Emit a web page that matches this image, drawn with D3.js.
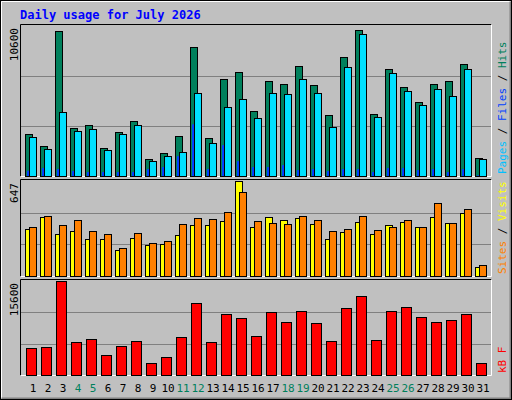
<!DOCTYPE html>
<html><head><meta charset="utf-8">
<script src="https://cdn.jsdelivr.net/npm/d3@7"></script>
<style>body{margin:0;background:#fff}text{font-family:"DejaVu Sans Mono",monospace}</style>
</head><body><svg id="c" width="512" height="400"></svg>
<script>
var days = d3.range(1, 32);
var weekend = [4, 5, 11, 12, 18, 19, 25, 26];
var hits = [2950,2100,10250,3370,3580,1970,3090,3860,1190,1610,2810,9130,2670,6880,7370,4560,6740,6530,7790,6460,4280,8420,10320,4350,7580,6320,5200,6530,6740,7930,1260];
var files = [2740,1900,4490,3160,3300,1830,2950,3580,1050,1400,1690,5900,2320,4910,5410,4070,5900,5760,6880,5830,3440,7720,10040,4140,7300,6040,4990,6180,5620,7580,1190];
var pages = [370,560,490,350,280,280,280,280,490,630,1400,3650,490,2180,1050,630,630,770,420,490,350,490,490,280,560,560,420,490,280,490,50];
var visits = [323,401,288,309,253,253,176,260,211,218,281,345,345,373,647,331,401,380,394,352,253,302,366,288,345,366,331,401,359,429,63];
var sites = [331,408,345,380,309,288,190,295,225,239,352,394,387,436,570,373,359,352,408,380,309,323,408,316,331,380,331,499,359,457,77];
var kbytes = [4500,4670,15600,5520,6040,3300,4840,5690,1940,2960,6380,12010,5520,10130,9450,6550,10480,8770,10650,8600,5690,11160,13040,5860,10650,11330,9620,8770,9110,10130,1940];
var maxHits = 10600, maxVisits = 647, maxKB = 15600;

var svg = d3.select('#c');
// outer frame with bevel
svg.append('rect').attr('x', 0).attr('y', 0).attr('width', 512).attr('height', 400).attr('fill', '#c0c0c0');
svg.append('path').attr('d', 'M1.5,398.5V1.5H510.5').attr('stroke', '#fff').attr('fill', 'none');
svg.append('path').attr('d', 'M1.5,398.5H510.5V1.5').attr('stroke', '#808080').attr('fill', 'none').attr('stroke-width', 2);
svg.append('rect').attr('x', 0.5).attr('y', 0.5).attr('width', 511).attr('height', 399).attr('fill', 'none').attr('stroke', '#000');

svg.append('text').attr('x', 20).attr('y', 19).attr('fill', '#0000ff').attr('font-size', 12).attr('font-weight', 'bold').text('Daily usage for July 2026');

var x = d3.scaleLinear().domain([1, 31]).range([25, 475]);

function panel(y0, y1, max, label, right) {
	svg.append('rect').attr('x', 20.5).attr('y', y0 + 0.5).attr('width', 470).attr('height', y1 - y0).attr('fill', '#c0c0c0');
	svg.append('path').attr('d', 'M20.5,' + (y1 + 0.5) + 'V' + (y0 + 0.5) + 'H491.5').attr('stroke', '#000').attr('fill', 'none');
	svg.append('path').attr('d', 'M20.5,' + (y1 + 0.5) + 'H491.5V' + (y0 + 0.5)).attr('stroke', '#fff').attr('fill', 'none');
	var y = d3.scaleLinear().domain([0, max]).range([y1, y0 + 2]);
	[1 / 3, 2 / 3].forEach(function (f) {
		svg.append('line').attr('x1', 21).attr('x2', 491).attr('y1', Math.round(y(max * f)) + 0.5).attr('y2', Math.round(y(max * f)) + 0.5).attr('stroke', '#808080');
	});
	svg.append('text').attr('transform', 'translate(18,' + (y0 + 4) + ') rotate(-90)').attr('text-anchor', 'end')
		.attr('font-size', 11).attr('fill', '#000').text(label);
	var t = svg.append('text').attr('transform', 'translate(506,' + (y1 - 2) + ') rotate(-90)').attr('font-size', 11);
	right.forEach(function (r, i) {
		if (i) t.append('tspan').attr('fill', '#000').text(' / ');
		t.append('tspan').attr('fill', r[1]).text(r[0]);
	});
	return y;
}

function bars(y, data, dx, w, color) {
	svg.append('g').selectAll('rect').data(data).join('rect')
		.attr('x', function (d, i) { return x(days[i]) + dx + 0.5; })
		.attr('y', function (d) { return Math.round(y(d)) + 0.5; })
		.attr('width', w)
		.attr('height', function (d) { return Math.max(0, Math.round(y(0) - y(d))); })
		.attr('fill', color).attr('stroke', '#000');
}

var yH = panel(24, 176, maxHits, '10600', [['Pages', '#00c0ff'], ['Files', '#0040ff'], ['Hits', '#00805c']]);
bars(yH, hits, 0, 7, '#00805c');
bars(yH, files, 4, 7, '#00e0ff');
svg.append('g').selectAll('rect').data(pages).join('rect')
	.attr('x', function (d, i) { return x(days[i]) + 2; })
	.attr('y', function (d) { return yH(d); })
	.attr('width', 2).attr('height', function (d) { return yH(0) - yH(d); })
	.attr('fill', '#0040ff');

var yV = panel(179, 276, maxVisits, '647', [['Sites', '#ff8000'], ['Visits', '#ffff00']]);
bars(yV, visits, 0, 7, '#ffff00');
bars(yV, sites, 4, 7, '#ff8000');

var yK = panel(279, 375, maxKB, '15600', [['kB F', '#ff0000']]);
bars(yK, kbytes, 1, 10, '#ff0000');

svg.append('g').selectAll('text').data(days).join('text')
	.attr('x', function (d) { return x(d) + 8; }).attr('y', 392)
	.attr('text-anchor', 'middle').attr('font-size', 11)
	.attr('fill', function (d) { return weekend.indexOf(d) >= 0 ? '#00805c' : '#000'; })
	.text(function (d) { return d; });
</script></body></html>
